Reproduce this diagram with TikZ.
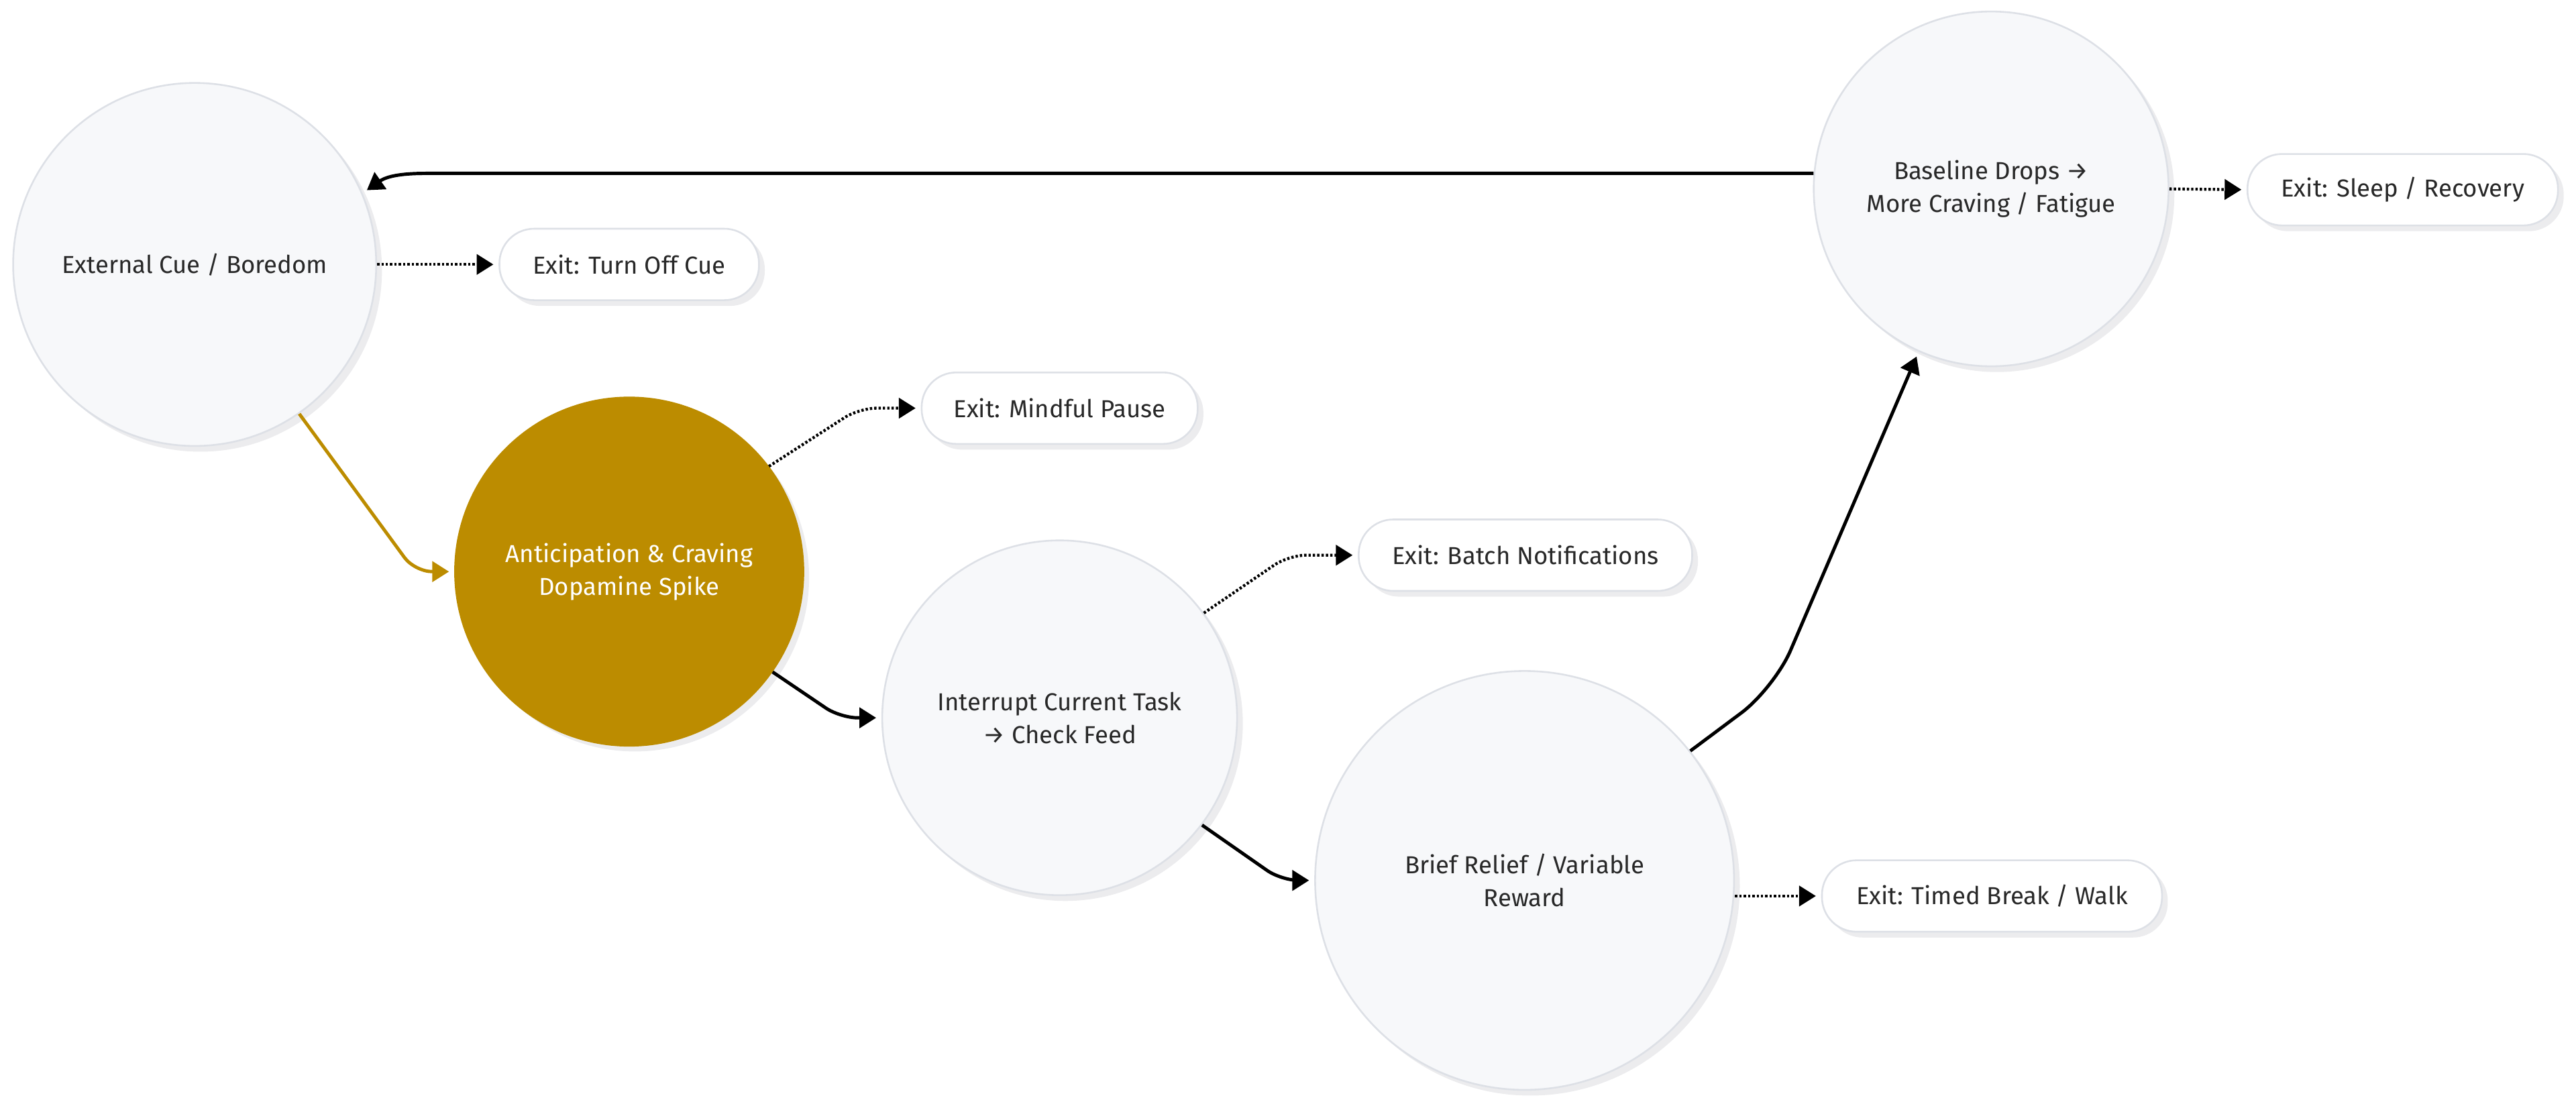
\documentclass[tikz,border=0pt]{standalone}
\usepackage{fontspec}
\setmainfont{Fira Sans}
\usepackage{xcolor}
\definecolor{gold}{RGB}{188, 140, 0}
\definecolor{nodefill}{RGB}{247, 248, 250}
\definecolor{nodeline}{RGB}{221, 224, 230}
\definecolor{ink}{RGB}{40, 40, 40}
\definecolor{shade}{RGB}{236, 236, 238}
\usetikzlibrary{arrows.meta, positioning, calc, shadows}
\tikzset{
    stage/.style={circle, draw=nodeline, line width=0.6pt, fill=nodefill, align=center, text=ink, font=\fontsize{8.5pt}{11.4pt}\selectfont, inner sep=0pt, drop shadow={shadow xshift=0.07cm, shadow yshift=-0.07cm, fill=shade, opacity=1}},
    hot/.style={stage, fill=gold, draw=gold, text=white},
    exitbox/.style={rectangle, rounded corners=12pt, draw=nodeline, line width=0.6pt, fill=white, minimum height=0.87cm, align=center, text=ink, font=\fontsize{8.5pt}{11.4pt}\selectfont, drop shadow={shadow xshift=0.07cm, shadow yshift=-0.07cm, fill=shade, opacity=1}},
    flow/.style={line width=1.15pt, -{Triangle[length=5.8pt,width=7pt]}, shorten >=1.8pt, rounded corners=6pt},
    exitflow/.style={flow, line width=1pt, dash pattern=on 0.8pt off 0.7pt}
}
\begin{document}
\begin{tikzpicture}
        \useasboundingbox (0,0) rectangle (31.36,-13.46);
        % Loop stages
        \node[stage, minimum size=4.42cm] (cue) at (2.37,-3.22) {External Cue / Boredom};
        \node[hot, minimum size=4.24cm] (crave) at (7.66,-6.96) {Anticipation \& Craving\\Dopamine Spike};
        \node[stage, minimum size=4.32cm] (check) at (12.9,-8.74) {Interrupt Current Task\\→ Check Feed};
        \node[stage, minimum size=5.1cm] (relief) at (18.56,-10.72) {Brief Relief / Variable\\Reward};
        \node[stage, minimum size=4.32cm] (base) at (24.24,-2.30) {Baseline Drops →\\More Craving / Fatigue};

        % Exits
        \node[exitbox, minimum width=3.16cm] (off) at (7.66,-3.22) {Exit: Turn Off Cue};
        \node[exitbox, minimum width=3.36cm] (pause) at (12.9,-4.97) {Exit: Mindful Pause};
        \node[exitbox, minimum width=4.06cm] (batch) at (18.57,-6.76) {Exit: Batch Notifications};
        \node[exitbox, minimum width=4.14cm] (walk) at (24.25,-10.91) {Exit: Timed Break / Walk};
        \node[exitbox, minimum width=3.78cm] (sleep) at (29.25,-2.31) {Exit: Sleep / Recovery};

        \coordinate (bend) at (21.6,-8.38);

        % Loop arrows
        \draw[flow, gold] (cue.-55) -- ($(crave.west)+(-0.48,0)$) -- (crave.west);
        \draw[flow] (crave.-35) -- ($(check.west)+(-0.5,0)$) -- (check.west);
        \draw[flow] (check.-37) -- ($(relief.west)+(-0.4,0)$) -- (relief.west);
        \draw[flow, rounded corners=0.5cm] (relief.38) -- (bend) -- (base.-114);
        \draw[flow] (base.175) -- ($(cue.23 |- base.175)+(1.0,0)$) to[out=180, in=35] (cue.23);

        % Exit arrows
        \draw[exitflow] (cue.east) -- (off.west);
        \draw[exitflow] (crave.37) -- ($(pause.west)+(-0.75,0)$) -- (pause.west);
        \draw[exitflow] (check.36) -- ($(batch.west)+(-0.84,0)$) -- (batch.west);
        \draw[exitflow] (walk.west -| relief.east) -- (walk.west);
        \draw[exitflow] (base.east) -- (sleep.west);
    \end{tikzpicture}
\end{document}
